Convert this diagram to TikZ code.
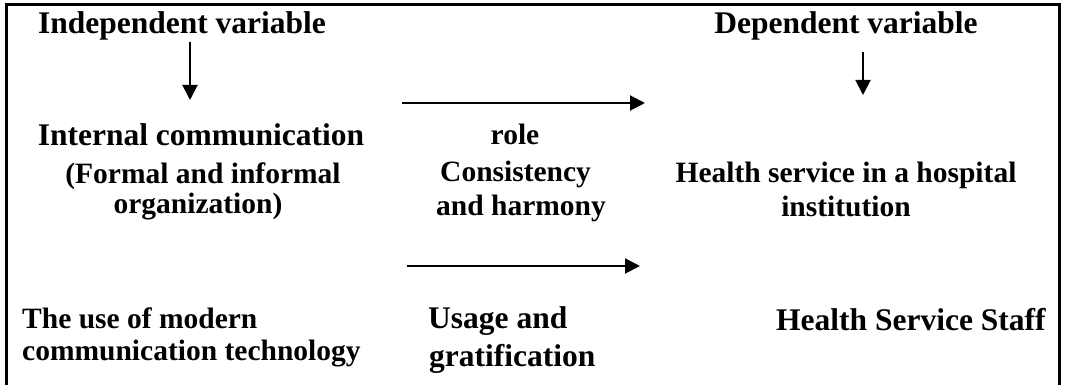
\documentclass[tikz,border=0pt]{standalone}
\usepackage{fontspec}
\setmainfont{Liberation Serif}
\usetikzlibrary{arrows.meta}

\begin{document}
\begin{tikzpicture}[x=1pt,y=-1pt,
  txt/.style={font=\fontsize{29.5}{33}\selectfont\bfseries, inner sep=0pt},
  bigtxt/.style={font=\fontsize{31.5}{35}\selectfont\bfseries, inner sep=0pt},
  flow/.style={line width=2pt, -{Triangle[length=15pt,width=15pt]}}]
  \useasboundingbox (0,0) rectangle (1065,385);
  \draw[line width=3pt] (6,385) -- (6,5) -- (1059,5) -- (1059,385);
  % variables
  \node[bigtxt, anchor=base] (indep) at (182,34) {Independent variable};
  \node[bigtxt, anchor=base] (dep) at (846,34) {Dependent variable};
  % first row
  \node[bigtxt, anchor=base] (intcom) at (201,146) {Internal communication};
  \node[txt, anchor=base] (formal) at (203,183) {(Formal and informal};
  \node[txt, anchor=base] (organ) at (198,213) {organization)};
  \node[txt, anchor=base] (role) at (515,145) {role};
  \node[txt, anchor=base west] (consist) at (440,181) {Consistency};
  \node[txt, anchor=base west] (harmony) at (436,215) {and harmony};
  \node[txt, anchor=base] (health) at (846,182) {Health service in a hospital};
  \node[txt, anchor=base] (instit) at (846,216) {institution};
  % second row
  \node[txt, anchor=base west] (usemod) at (22,328) {The use of modern};
  \node[txt, anchor=base west] (comtech) at (22,360) {communication technology};
  \node[bigtxt, anchor=base west] (usage) at (428,328) {Usage and};
  \node[bigtxt, anchor=base west] (gratif) at (429,366) {gratification};
  \node[bigtxt, anchor=base west] (staff) at (776,330) {Health Service Staff};
  % arrows
  \coordinate (indepA) at (190,42);
  \coordinate (indepB) at (190,100);
  \coordinate (depA) at (863,52);
  \coordinate (depB) at (863,95);
  \coordinate (roleA) at (402,103);
  \coordinate (roleB) at (645,103);
  \coordinate (usageA) at (407,266);
  \coordinate (usageB) at (640,266);
  \draw[flow] (indepA) -- (indepB);
  \draw[flow] (depA) -- (depB);
  \draw[flow] (roleA) -- (roleB);
  \draw[flow] (usageA) -- (usageB);
\end{tikzpicture}
\end{document}
